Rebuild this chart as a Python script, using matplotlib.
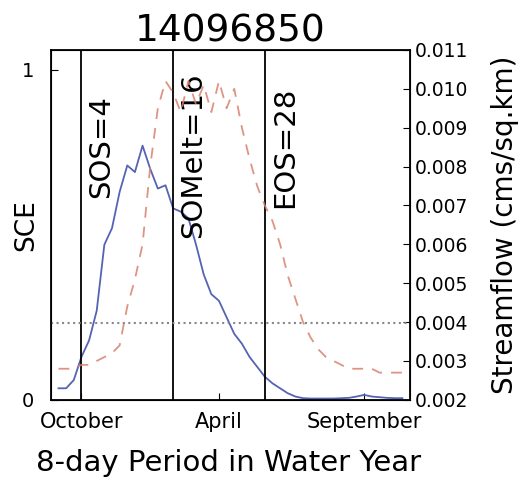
import numpy as np
import matplotlib
matplotlib.use("Agg")
import matplotlib.pyplot as plt

# 8-day periods in the water year
periods = np.arange(1, 47)

# snow cover extent (left axis)
sce = [0.035, 0.035, 0.06, 0.13, 0.18, 0.27, 0.47, 0.52, 0.63, 0.71,
       0.69, 0.77, 0.70, 0.64, 0.65, 0.58, 0.57, 0.55, 0.47, 0.38,
       0.32, 0.30, 0.25, 0.20, 0.17, 0.13, 0.10, 0.07, 0.05, 0.035,
       0.02, 0.01, 0.005, 0.004, 0.004, 0.004, 0.004, 0.005, 0.006, 0.01,
       0.015, 0.01, 0.008, 0.006, 0.005, 0.005]

# streamflow (right axis)
flow = [0.0028, 0.0028, 0.0028, 0.0029, 0.0029, 0.0030, 0.0031, 0.0032, 0.0034, 0.0044,
        0.0051, 0.0060, 0.0080, 0.0095, 0.0102, 0.0099, 0.0094, 0.0102, 0.0096, 0.0101,
        0.0094, 0.0102, 0.0095, 0.0100, 0.0090, 0.0082, 0.0075, 0.0070, 0.0066, 0.0060,
        0.0052, 0.0046, 0.0040, 0.0036, 0.0033, 0.0031, 0.0030, 0.0029, 0.0028, 0.0028,
        0.0028, 0.0028, 0.0027, 0.0027, 0.0027, 0.0027]
flow_threshold = 0.00398

events = [4, 16, 28]
event_labels = ["SOS=4", "SOMelt=16", "EOS=28"]
event_label_y = [0.61, 0.49, 0.58]

month_ticks = [4, 22, 41]
month_labels = ["October", "April", "September"]

fig = plt.figure(figsize=(5.19, 4.8), dpi=100)
ax = fig.add_axes([0.098, 0.167, 0.692, 0.729])
ax2 = ax.twinx()

ax.plot(periods, sce, color="#5563b5", lw=1.3)
ax2.plot(periods, flow, color="#d9826e", lw=1.3, ls="--", dashes=(6, 5), alpha=0.85)
ax2.axhline(flow_threshold, color="#888888", lw=1.5, ls=":")

for x, lab, y in zip(events, event_labels, event_label_y):
    ax.axvline(x, color="black", lw=1.3)
    ax.text(x + 0.8, y, lab, rotation=90, fontsize=21, ha="left", va="bottom")

ax.set_xlim(0, 47)
ax.set_ylim(0, 1.06)
ax2.set_ylim(0.002, 0.011)

ax.set_yticks([0, 1])
ax.set_yticklabels(["0", "1"])
ax.set_xticks(month_ticks)
ax.set_xticklabels(month_labels)
ax2.set_yticks(np.arange(0.002, 0.0111, 0.001))
ax2.set_yticklabels(["%.3f" % v for v in np.arange(0.002, 0.0111, 0.001)])

ax.tick_params(axis="x", direction="in", labelsize=15, length=5, pad=9)
ax.tick_params(axis="y", direction="in", labelsize=14, length=5, pad=12)
ax2.tick_params(direction="in", labelsize=13.5, length=5)

ax.set_ylabel("SCE", fontsize=19)
ax.yaxis.set_label_coords(-0.031, 0.5)
ax.set_xlabel("8-day Period in Water Year", fontsize=21)
ax.xaxis.set_label_coords(0.496, -0.14)
ax2.set_ylabel("Streamflow (cms/sq.km)", fontsize=20, labelpad=16)
ax.set_title("14096850", fontsize=27)

for sp in ax2.spines.values():
    sp.set_linewidth(1.3)

fig.savefig("out.png", dpi=100)
